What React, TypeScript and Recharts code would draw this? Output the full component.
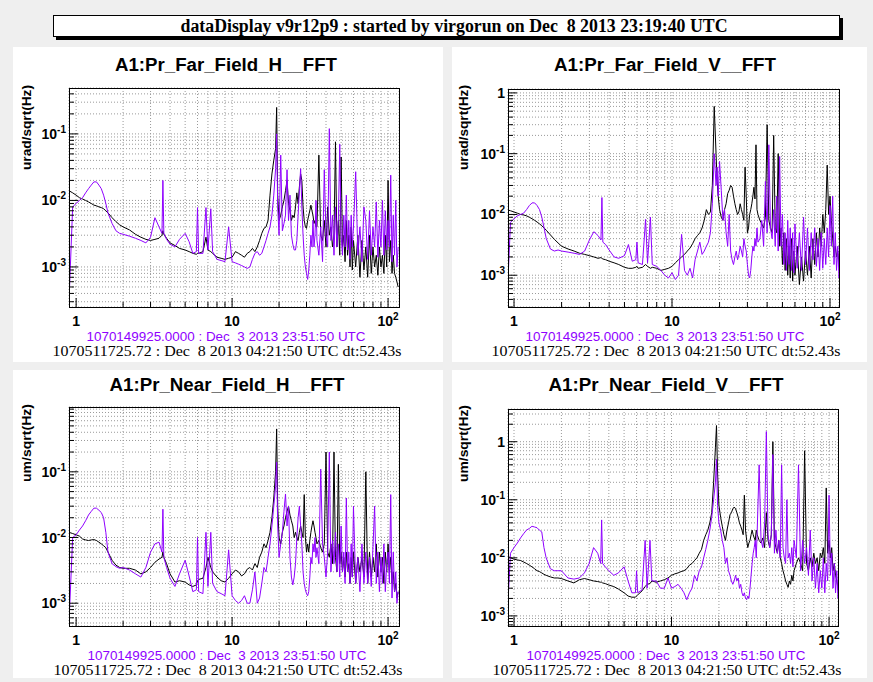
import React from "react";
import { LineChart, Line, XAxis, YAxis, CartesianGrid } from "recharts";

// frequency grid (Hz), shared by every spectrum
const FREQ = [
  0.9, 0.95, 1.0, 1.05, 1.1, 1.15, 1.2, 1.25, 1.3, 1.35,
  1.4, 1.45, 1.5, 1.55, 1.6, 1.7, 1.8, 1.9, 2.0, 2.2,
  2.4, 2.6, 2.8, 3.0, 3.2, 3.4, 3.55, 3.6, 3.65, 3.8,
  4.0, 4.3, 4.6, 5.0, 5.3, 5.6, 5.9, 6.0, 6.1, 6.5,
  6.8, 7.0, 7.3, 7.5, 8.0, 8.5, 9.0, 9.5, 10, 10.5,
  11, 11.5, 12, 12.5, 13, 13.5, 14, 14.5, 15, 15.5,
  16, 16.5, 17, 17.5, 18, 18.5, 19, 19.3, 19.6, 20,
  20.5, 21, 21.5, 22, 22.5, 23, 23.5, 24, 24.5, 25,
  25.5, 26, 26.5, 27, 27.5, 28, 28.5, 29, 29.5, 30,
  30.5, 31, 31.5, 32, 32.5, 33, 33.5, 34, 34.5, 35,
  36, 37, 38, 39, 40, 41, 42, 43, 44, 45,
  46, 47, 48, 49, 50, 51, 52, 53, 54, 55,
  56, 57, 58, 59, 60, 62, 64, 66, 68, 70,
  72, 74, 76, 78, 80, 82, 84, 86, 88, 90,
  92, 94, 96, 98, 100, 102, 104, 106, 108, 110,
  112, 114, 116,
];

// spectra in units of 1e-3 (ref = Dec 3 purple trace, now = Dec 8 black trace)
const FAR_H_REF = [
  0.3, 8, 9, 10, 11, 13, 15, 17, 19, 19,
  17, 15, 12, 9, 6.5, 4.5, 3.5, 3.2, 3.1, 2.9,
  2.7, 2.5, 2.3, 2.8, 5.5, 4, 3.2, 20, 3.2, 2.6,
  2.2, 2.0, 2.6, 3.2, 2.4, 1.6, 1.7, 7.8, 1.6, 1.6,
  7.8, 1.8, 7.5, 1.7, 1.3, 1.25, 1.2, 4.0, 1.2, 1.15,
  1.1, 1.05, 1.0, 0.95, 1.0, 1.3, 1.6, 1.7, 1.5, 1.6,
  2.0, 2.5, 3.2, 4.0, 6.0, 12, 30, 100, 8, 3.0,
  48, 3.5, 4.5, 6, 29, 5, 12, 3, 2.2, 1.8,
  1.8, 2.5, 6, 14, 30, 8, 3, 1.5, 1.0, 0.8,
  0.65, 0.9, 1.5, 3, 2, 5, 2, 3, 10, 2.5,
  1.5, 4, 1.2, 29, 3, 2, 120, 2.5, 6, 1.5,
  8, 2, 5, 70, 3, 1.5, 6, 2, 12, 1.8,
  5, 1.3, 6, 2, 4, 27, 1.5, 4, 1.2, 8,
  5, 1.3, 7, 1.5, 4, 2, 9.5, 1.4, 5, 2,
  10, 1.5, 7, 1.8, 5, 2, 24, 1.2, 6, 1.5,
  10, 1, 2,
];
const FAR_H_NOW = [
  14, 13, 12, 11, 10.5, 10, 9.5, 9, 8.5, 8.3,
  8, 7.8, 7.5, 7, 6.5, 5.5, 4.8, 4.3, 4.0, 3.6,
  3.1, 2.8, 2.6, 2.5, 2.6, 2.7, 3.0, 3.5, 3.1, 2.7,
  2.3, 2.1, 1.9, 1.8, 1.7, 1.6, 1.55, 1.6, 1.6, 1.7,
  2.8, 1.8, 1.7, 1.6, 1.4, 1.35, 1.3, 1.35, 1.4, 1.7,
  1.6, 1.5, 1.4, 1.6, 1.7, 1.9, 1.7, 2.0, 2.5, 3.2,
  3.8, 4.0, 5, 12, 25, 40, 60, 250, 12, 5,
  6, 8, 10, 14, 20, 9, 7, 5, 6, 5.5,
  8, 13, 9, 16, 25, 20, 8, 5, 4, 3.8,
  5, 6, 7, 8.5, 7, 6, 4.5, 5, 4, 4,
  48, 3, 2.5, 5, 2, 8, 3, 4, 2, 3,
  76, 2, 5, 1.5, 45, 2, 3, 1.2, 5, 1.5,
  3, 1, 4, 0.9, 2.5, 1, 3, 0.7, 2.5, 0.9,
  2, 0.7, 3, 0.8, 2, 1, 1.5, 0.75, 2, 1,
  1.5, 0.8, 3, 1, 20, 1.2, 2.5, 0.8, 1.5, 0.8,
  0.7, 0.6, 0.5,
];
const FAR_V_REF = [
  0.3, 7.4, 8.5, 9.5, 10, 10.5, 12, 14, 15.5, 15.5,
  14, 12, 9, 6, 4, 2.7, 2.5, 2.6, 2.5, 2.4,
  2.3, 2.2, 2.5, 3.8, 5.2, 4.5, 3.8, 19, 3.5, 3.2,
  2.6, 2.0, 1.9, 2.1, 3.2, 1.7, 1.8, 3.5, 1.6, 1.5,
  8.3, 1.6, 9, 1.5, 1.4, 1.2, 1.0, 0.9, 1.1, 0.85,
  1.0, 4.7, 1.2, 1.0, 1.3, 0.9, 1.8, 2.5, 3.5, 2.2,
  2.5, 3, 3.5, 5, 15, 100, 30, 60, 20, 74,
  25, 8, 12, 5, 3, 10, 2.5, 1.8, 1.5, 2,
  2.5, 1.8, 2.2, 3, 2.5, 2, 4, 3, 2.5, 1.5,
  1.0, 0.9, 1.2, 2, 3, 2.5, 4, 3, 6, 3.5,
  4, 8, 3, 35, 5, 140, 6, 4, 12, 3,
  20, 2.5, 90, 3, 10, 1.5, 5, 1.2, 8, 1.5,
  6, 1.2, 5, 1.1, 7, 1.3, 5, 1.2, 9, 1.5,
  6, 1.2, 5, 1.8, 6, 1.4, 4, 1.2, 5, 1.3,
  4, 1.5, 6, 2, 14, 3, 20, 1.5, 5, 1.2,
  3, 0.9, 1.5,
];
const FAR_V_NOW = [
  12, 11.5, 11, 10.5, 10, 9.8, 9.5, 9, 8.5, 8,
  7.5, 7, 6.5, 6, 5.5, 4.6, 3.9, 3.4, 3.0, 2.7,
  2.5, 2.3, 2.2, 2.1, 2.0, 1.9, 1.95, 1.9, 1.85, 1.8,
  1.7, 1.6, 1.5, 1.35, 1.3, 1.3, 1.35, 1.4, 1.3, 1.35,
  1.5, 1.4, 1.3, 1.35, 1.3, 1.2, 1.25, 1.3, 1.4, 1.6,
  1.8, 2.0, 2.2, 2.5, 2.8, 3.3, 4.0, 4.5, 5, 6,
  8, 12, 10, 11, 30, 600, 100, 35, 20, 12,
  9, 8, 12, 15, 22, 25, 30, 28, 20, 15,
  12, 10, 11, 15, 12, 10, 8, 60, 20, 5,
  6, 10, 12, 15, 20, 28, 18, 140, 12, 10,
  8, 7, 6, 9, 300, 8, 6, 5, 200, 6,
  5, 100, 3, 6, 1.5, 5, 1.2, 4, 1.0, 3,
  0.9, 4, 0.8, 2.5, 1.0, 3, 0.7, 2, 0.8, 2.5,
  1.0, 3, 0.9, 4, 1.5, 5, 2, 6, 3, 10,
  5, 12, 65, 10, 20, 8, 4, 2, 3, 2,
  2.5, 1.5, 2,
];
const NEAR_H_REF = [
  0.5, 10, 11, 13, 15, 18, 22, 25, 28, 28,
  26, 24, 20, 12, 6, 4, 3.6, 3.4, 3.5, 3.2,
  2.8, 2.5, 3.5, 6, 8, 8.5, 6, 27, 5, 3.5,
  2.4, 1.8, 2.8, 4.5, 2.6, 1.5, 1.6, 10, 1.5, 1.4,
  12, 1.8, 12, 2.0, 1.5, 1.4, 1.3, 6.5, 1.3, 1.1,
  1.0, 1.1, 1.3, 1.0, 1.0, 1.6, 3, 1.0, 1.2, 2,
  3.5, 3, 5, 8, 15, 30, 60, 140, 15, 5,
  8, 12, 25, 46, 15, 30, 5, 2.5, 1.9, 2.5,
  4, 10, 20, 30, 15, 8, 3, 2, 1.6, 1.4,
  1.3, 1.5, 2.5, 5, 4, 8, 6, 10, 5, 7,
  4, 110, 8, 5, 2.5, 6, 200, 3, 9, 4,
  12, 3, 8, 2.5, 15, 3, 6, 2, 40, 3,
  6, 2, 8, 2.5, 30, 2, 5, 1.5, 8, 2,
  6, 2, 5, 1.8, 7, 30, 2, 6, 1.5, 5,
  2, 8, 1.5, 4, 6, 2, 45, 1.2, 6, 1.5,
  3, 1, 1.5,
];
const NEAR_H_NOW = [
  12, 11.5, 11, 10.5, 9.5, 9.2, 9, 9.2, 9.3, 9,
  8.5, 8, 7.5, 7, 6, 4.5, 3.8, 3.5, 3.4, 3.4,
  3.2, 2.8, 3.0, 3.5, 4.2, 4.7, 5, 6, 5, 4,
  2.8, 2.1, 2.2, 2.1, 1.9, 1.8, 1.9, 2.2, 2.3, 2.4,
  3.5, 5, 3.5, 3, 2.5, 2.2, 2.1, 2.4, 2.8, 3.2,
  3, 2.6, 2.8, 3.3, 3.5, 3.2, 4, 3.5, 5, 6,
  8, 7, 9, 12, 20, 40, 100, 450, 30, 10,
  8, 12, 15, 20, 25, 30, 22, 18, 15, 10,
  12, 10, 9, 12, 15, 12, 10, 45, 10, 6,
  8, 6, 9, 12, 15, 18, 15, 12, 10, 8,
  9, 7, 6, 8, 200, 6, 5, 8, 4, 200,
  5, 3, 130, 4, 6, 3, 5, 2.5, 6, 3,
  4, 2, 5, 2.5, 6, 2, 5, 3, 5, 2.5,
  100, 2, 6, 2.5, 5, 3, 8, 2.5, 6, 3,
  5, 2, 6, 3, 8, 3, 5, 2, 3, 1.5,
  2, 1.2, 1.5,
];
const NEAR_V_REF = [
  0.7, 12, 15, 18, 22, 26, 30, 32, 35, 34,
  33, 30, 28, 15, 10, 6.5, 6, 6, 6, 4.5,
  4.3, 4.5, 5.5, 8, 15, 12, 8, 45, 8, 7,
  6, 5, 5.5, 7, 4, 2.5, 2.5, 6, 2.5, 2.8,
  20, 3, 20, 4, 4, 3, 3, 4.5, 3, 3.2,
  3.5, 3, 2.5, 1.9, 2.5, 3, 5, 4, 6, 7,
  10, 14, 20, 30, 50, 100, 200, 500, 80, 40,
  30, 20, 15, 8, 10, 6, 5, 4, 3.5, 4,
  5, 4, 4.5, 3, 3.5, 2.5, 2.2, 2.5, 2, 1.9,
  2.2, 2, 3, 5, 8, 12, 15, 20, 10, 30,
  400, 20, 15, 40, 1500, 25, 15, 25, 600, 12,
  30, 12, 20, 10, 400, 15, 10, 8, 100, 10,
  12, 8, 15, 7, 20, 10, 400, 6, 20, 8,
  15, 5, 30, 4, 10, 3, 8, 2.5, 6, 3,
  10, 2.5, 8, 4, 120, 5, 12, 3, 8, 2.5,
  6, 2, 3,
];
const NEAR_V_NOW = [
  11, 10, 9.5, 9.2, 9, 8.5, 8, 7.5, 7, 6.5,
  6, 5.8, 5.5, 5.2, 5, 4.7, 4.5, 4.5, 4.4, 4.0,
  3.7, 4.2, 4.4, 4.2, 4.0, 3.9, 3.8, 3.8, 3.7, 3.6,
  3.4, 3.2, 2.9, 2.5, 2.2, 2.1, 2.1, 2.2, 2.3, 2.7,
  3.2, 3.5, 3.6, 4.0, 3.8, 4.0, 4.2, 4.5, 5, 5.3,
  5.5, 5.8, 6, 6.5, 7.5, 8, 9, 10, 12, 14,
  20, 25, 30, 40, 60, 200, 800, 1900, 300, 80,
  50, 35, 25, 20, 30, 40, 55, 60, 70, 75,
  70, 60, 50, 40, 35, 30, 25, 120, 30, 20,
  15, 18, 20, 25, 30, 25, 22, 20, 30, 25,
  20, 18, 22, 15, 60, 20, 15, 25, 1000, 20,
  15, 12, 20, 10, 8, 6, 5, 4, 3.5, 3.1,
  4, 3.5, 5, 4, 6, 8, 10, 8, 6, 700,
  8, 6, 10, 7, 12, 8, 10, 6, 12, 10,
  15, 8, 160, 12, 20, 10, 15, 6, 8, 5,
  4, 3, 2.5,
];

const X_TICKS = [1, 2, 3, 4, 5, 6, 7, 8, 9, 10, 20, 30, 40, 50, 60, 70, 80, 90, 100];

const HEADER = "dataDisplay v9r12p9 : started by virgorun on Dec  8 2013 23:19:40 UTC";
const REF_LABEL = "1070149925.0000 : Dec  3 2013 23:51:50 UTC";
const NOW_LABEL = "1070511725.72 : Dec  8 2013 04:21:50 UTC dt:52.43s";

const PURPLE = "#8f00ff";
const SANS = "'Liberation Sans', Arial, sans-serif";
const SERIF = "'Liberation Serif', 'Times New Roman', serif";

// 1..9 x 10^e inside the axis range
function logTicks(lo: number, hi: number) {
  const out: number[] = [];
  for (let e = -4; e <= 1; e++) {
    for (let m = 1; m <= 9; m++) {
      const v = Number((m * Math.pow(10, e)).toPrecision(3));
      if (v >= lo && v <= hi) out.push(v);
    }
  }
  return out;
}

const isDecade = (v: number) =>
  Math.abs(Math.log10(v) - Math.round(Math.log10(v))) < 1e-6;

function Pow10({ v, x, y, anchor }: { v: number; x: number; y: number; anchor: string }) {
  const e = Math.round(Math.log10(v));
  return (
    <text x={x} y={y} textAnchor={anchor} fontFamily={SANS} fontWeight="bold" fontSize={14} fill="#000">
      {e === 0 ? "1" : e === 1 ? "10" : (
        <>
          <tspan>10</tspan>
          <tspan dy={-6} fontSize={10}>{e}</tspan>
        </>
      )}
    </text>
  );
}

function XTick(props: any) {
  const { x, y, payload } = props;
  const major = isDecade(payload.value);
  return (
    <g>
      <line x1={x} x2={x} y1={y} y2={y - (major ? 9 : 5)} stroke="#000" />
      {major && <Pow10 v={payload.value} x={x} y={y + 19} anchor="middle" />}
    </g>
  );
}

function YTick(props: any) {
  const { x, y, payload } = props;
  const major = isDecade(payload.value);
  return (
    <g>
      <line x1={x} x2={x + (major ? 9 : 5)} y1={y} y2={y} stroke="#000" />
      {major && <Pow10 v={payload.value} x={x - 3} y={y + 5} anchor="end" />}
    </g>
  );
}

type PanelCfg = {
  left: number; top: number; w: number; h: number;
  L: number; T: number; R: number; B: number;
  xDomain: [number, number]; yDomain: [number, number];
  title: string; titleLen: number; titleY: number;
  yTitle: string; yTitleLen: number; yTitleX: number; yTitleTop: number;
  refY: number; nowY: number; cx: number;
  refData: number[]; nowData: number[];
};

const PANELS: PanelCfg[] = [
  {
    left: 13, top: 47, w: 430, h: 315, L: 56, T: 41, R: 44, B: 55,
    xDomain: [0.9, 117.5], yDomain: [2.5e-4, 0.49],
    title: "A1:Pr_Far_Field_H__FFT", titleLen: 222, titleY: 24,
    yTitle: "urad/sqrt(Hz)", yTitleLen: 85, yTitleX: 18, yTitleTop: 38,
    refY: 294, nowY: 309, cx: 213,
    refData: FAR_H_REF, nowData: FAR_H_NOW,
  },
  {
    left: 452, top: 47, w: 415, h: 315, L: 56, T: 42, R: 28, B: 55,
    xDomain: [0.916, 114], yDomain: [3e-4, 1.16],
    title: "A1:Pr_Far_Field_V__FFT", titleLen: 222, titleY: 24,
    yTitle: "urad/sqrt(Hz)", yTitleLen: 85, yTitleX: 16, yTitleTop: 38,
    refY: 294, nowY: 309, cx: 213,
    refData: FAR_V_REF, nowData: FAR_V_NOW,
  },
  {
    left: 13, top: 370, w: 430, h: 308, L: 56, T: 37, R: 44, B: 52,
    xDomain: [0.9, 117.5], yDomain: [4.5e-4, 0.97],
    title: "A1:Pr_Near_Field_H__FFT", titleLen: 235, titleY: 21,
    yTitle: "um/sqrt(Hz)", yTitleLen: 78, yTitleX: 18, yTitleTop: 34,
    refY: 290, nowY: 305, cx: 214,
    refData: NEAR_H_REF, nowData: NEAR_H_NOW,
  },
  {
    left: 452, top: 370, w: 415, h: 308, L: 56, T: 39, R: 29, B: 52,
    xDomain: [0.916, 114], yDomain: [6.7e-4, 3.66],
    title: "A1:Pr_Near_Field_V__FFT", titleLen: 235, titleY: 21,
    yTitle: "um/sqrt(Hz)", yTitleLen: 77, yTitleX: 16, yTitleTop: 35,
    refY: 290, nowY: 305, cx: 214,
    refData: NEAR_V_REF, nowData: NEAR_V_NOW,
  },
];

function Panel({ cfg }: { cfg: PanelCfg }) {
  const { left, top, w, h, L, T, R, B } = cfg;
  const rows = FREQ.map((f, i) => ({
    f,
    refv: cfg.refData[i] * 1e-3,
    nowv: cfg.nowData[i] * 1e-3,
  }));
  const pw = w - L - R;
  const ph = h - T - B;
  return (
    <div style={{ position: "absolute", left, top, width: w, height: h, background: "#fff" }}>
      <LineChart width={w} height={h} data={rows} margin={{ top: T, right: R, bottom: 0, left: 0 }}>
        <CartesianGrid stroke="#9a9a9a" strokeDasharray="1 2" />
        <XAxis
          dataKey="f"
          type="number"
          scale="log"
          domain={cfg.xDomain}
          allowDataOverflow
          ticks={X_TICKS}
          interval={0}
          height={B}
          tickSize={0}
          tickMargin={0}
          axisLine={false}
          tickLine={false}
          tick={(p: any) => <XTick {...p} />}
        />
        <YAxis
          type="number"
          scale="log"
          domain={cfg.yDomain}
          allowDataOverflow
          ticks={logTicks(cfg.yDomain[0], cfg.yDomain[1])}
          interval={0}
          width={L}
          tickSize={0}
          tickMargin={0}
          axisLine={false}
          tickLine={false}
          tick={(p: any) => <YTick {...p} />}
        />
        <Line type="linear" dataKey="nowv" stroke="#000" strokeWidth={1} dot={false} isAnimationActive={false} />
        <Line type="linear" dataKey="refv" stroke={PURPLE} strokeWidth={1} dot={false} isAnimationActive={false} />
      </LineChart>
      <svg width={w} height={h} style={{ position: "absolute", left: 0, top: 0, pointerEvents: "none" }}>
        <rect x={L + 0.5} y={T + 0.5} width={pw} height={ph} fill="none" stroke="#000" />
        <text x={cfg.cx} y={cfg.titleY} textAnchor="middle" fontFamily={SANS} fontWeight="bold" fontSize={18}
          textLength={cfg.titleLen} lengthAdjust="spacingAndGlyphs">
          {cfg.title}
        </text>
        <text transform={`translate(${cfg.yTitleX},${cfg.yTitleTop}) rotate(-90)`} textAnchor="end"
          fontFamily={SANS} fontWeight="bold" fontSize={12}
          textLength={cfg.yTitleLen} lengthAdjust="spacingAndGlyphs">
          {cfg.yTitle}
        </text>
        <text x={cfg.cx} y={cfg.refY} textAnchor="middle" fontFamily={SANS} fontSize={12} fill={PURPLE}
          textLength={279} lengthAdjust="spacingAndGlyphs" style={{ whiteSpace: "pre" }}>
          {REF_LABEL}
        </text>
        <text x={cfg.cx + 1} y={cfg.nowY} textAnchor="middle" fontFamily={SERIF} fontSize={15} fill="#000"
          textLength={349} lengthAdjust="spacingAndGlyphs" style={{ whiteSpace: "pre" }}>
          {NOW_LABEL}
        </text>
      </svg>
    </div>
  );
}

export default function App() {
  return (
    <div style={{ position: "absolute", left: 0, top: 0, width: 873, height: 682, background: "#efefef", overflow: "hidden" }}>
      <div style={{
        position: "absolute", left: 53, top: 15, width: 785, height: 20,
        background: "#fff", border: "1px solid #000", boxShadow: "3px 3px 0 #000",
      }}>
        <svg width={785} height={20} style={{ position: "absolute", left: 0, top: 0 }}>
          <text x={400} y={16} textAnchor="middle" fontFamily={SERIF} fontWeight="bold" fontSize={18}
            textLength={547} lengthAdjust="spacingAndGlyphs" style={{ whiteSpace: "pre" }}>
            {HEADER}
          </text>
        </svg>
      </div>
      {PANELS.map((p) => (
        <Panel key={p.title} cfg={p} />
      ))}
    </div>
  );
}
